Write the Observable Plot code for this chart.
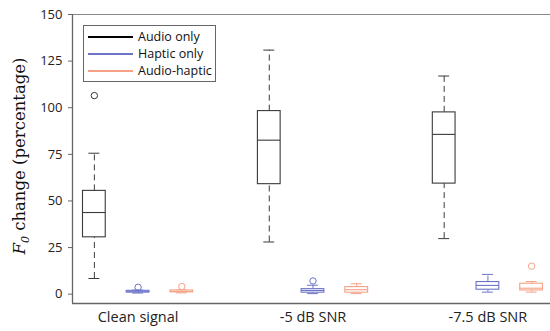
<!DOCTYPE html>
<html><head><meta charset="utf-8">
<script src="https://cdn.jsdelivr.net/npm/d3@7"></script>
<script src="https://cdn.jsdelivr.net/npm/@observablehq/plot@0.6"></script>
<style>
body{margin:0;background:#fff;}
#wrap{position:relative;width:550px;height:331px;overflow:hidden;}
#legend{position:absolute;left:83px;top:25px;width:131px;height:55px;border:1px solid #666;background:#fff;font-family:"Open Sans",sans-serif;font-size:12.5px;color:#111;}
#legend div{position:absolute;left:4px;height:17px;line-height:17px;white-space:nowrap;}
#legend span.l{display:inline-block;width:45px;height:0;border-top:2px solid;vertical-align:middle;margin-right:5px;position:relative;top:-1px;}
</style></head>
<body><div id="wrap"><div id="chart"></div>
<div id="legend"></div></div>
<script>
const groups = ["Clean signal", "-5 dB SNR", "-7.5 dB SNR"];
const conditions = ["Audio only", "Haptic only", "Audio-haptic"];
const colors = ["#3a3a3a", "#6c74c8", "#f6a185"];
const yTicks = [0, 25, 50, 75, 100, 125, 150];
// per group, per condition
const lowWhisker = [[8.4, 0.6, 0.7], [28.0, 0.3, 0.3], [29.8, 1.1, 1.1]];
const q1 =         [[30.5, 0.9, 1.0], [59.0, 0.8, 0.8], [59.3, 2.4, 2.0]];
const median =     [[43.8, 1.3, 1.5], [82.6, 2.0, 2.4], [85.7, 4.7, 3.2]];
const q3 =         [[55.4, 1.8, 2.0], [98.2, 2.7, 3.8], [97.5, 6.5, 5.6]];
const highWhisker =[[75.6, 2.2, 2.3], [130.9, 4.8, 5.6], [117.0, 10.6, 6.8]];
const outliers =   [[[106.5], [3.7], [4.1]], [[], [7.1], []], [[], [], [15.0]]];

const boxes = [];
const outs = [];
groups.forEach((g, gi) => conditions.forEach((c, ci) => {
  const pos = gi * 4 + ci + 1;
  boxes.push({group: g, cond: c, ci, pos, lo: lowWhisker[gi][ci], q1: q1[gi][ci], med: median[gi][ci], q3: q3[gi][ci], hi: highWhisker[gi][ci]});
  outliers[gi][ci].forEach(v => outs.push({pos, v, ci, cond: c}));
}));
const bw = 0.26, cw = 0.125;
const col = d => colors[d.ci];

const plot = Plot.plot({
  width: 550, height: 331,
  marginLeft: 72, marginRight: -3, marginTop: 14, marginBottom: 28,
  x: {type: "linear", domain: [0.5, 11.5]},
  y: {domain: [-5, 150]},
  style: {fontFamily: "'Open Sans', sans-serif", fontSize: "13px", color: "#222"},
  marks: [
    Plot.ruleY([150], {stroke: "#888", strokeWidth: 1}),
    Plot.ruleY([-5], {stroke: "#666", strokeWidth: 1.3}),
    Plot.ruleX([0.5], {stroke: "#666", strokeWidth: 1.3}),
    Plot.axisY({ticks: yTicks, tickSize: 4, tickPadding: 6, label: null, stroke: "#666", fontSize: 13}),
    Plot.axisX({ticks: [2, 6, 10], tickFormat: d => groups[(d - 2) / 4], tickSize: 0, tickPadding: 8, label: null, fontSize: 14.5}),
    // whiskers (dashed)
    Plot.ruleX(boxes, {x: "pos", y1: "q3", y2: "hi", stroke: col, strokeDasharray: "6,4", strokeWidth: 1}),
    Plot.ruleX(boxes, {x: "pos", y1: "lo", y2: "q1", stroke: col, strokeDasharray: "6,4", strokeWidth: 1}),
    // caps
    Plot.ruleY(boxes, {y: "hi", x1: d => d.pos - cw, x2: d => d.pos + cw, stroke: col, strokeWidth: 1}),
    Plot.ruleY(boxes, {y: "lo", x1: d => d.pos - cw, x2: d => d.pos + cw, stroke: col, strokeWidth: 1}),
    // boxes
    Plot.rect(boxes, {x1: d => d.pos - bw, x2: d => d.pos + bw, y1: "q1", y2: "q3", fill: "white", stroke: col, strokeWidth: 1.1}),
    Plot.ruleY(boxes, {y: "med", x1: d => d.pos - bw, x2: d => d.pos + bw, stroke: col, strokeWidth: 1.1}),
    Plot.dot(outs, {x: "pos", y: "v", r: 3.2, stroke: d => colors[d.ci], fill: "none", strokeWidth: 1})
  ]
});
document.getElementById("chart").appendChild(plot);

// y-axis label with italic F and subscript 0
const svg = d3.select(plot);
const t = svg.append("text")
  .attr("transform", "translate(25,156) rotate(-90)")
  .attr("text-anchor", "middle")
  .attr("font-family", "'DejaVu Serif', serif")
  .attr("font-size", 16.5)
  .attr("fill", "#111");
t.append("tspan").attr("font-style", "italic").text("F");
t.append("tspan").attr("font-style", "italic").attr("font-size", 11).attr("dy", 4).text("0");
t.append("tspan").attr("dy", -4).text(" change (percentage)");

// legend
const leg = d3.select("#legend");
conditions.forEach((c, i) => {
  const row = leg.append("div").style("top", (2 + i * 17) + "px");
  row.append("span").attr("class", "l").style("border-top-color", i === 0 ? "#000" : colors[i]);
  row.append("span").text(c);
});
</script>
</body></html>
